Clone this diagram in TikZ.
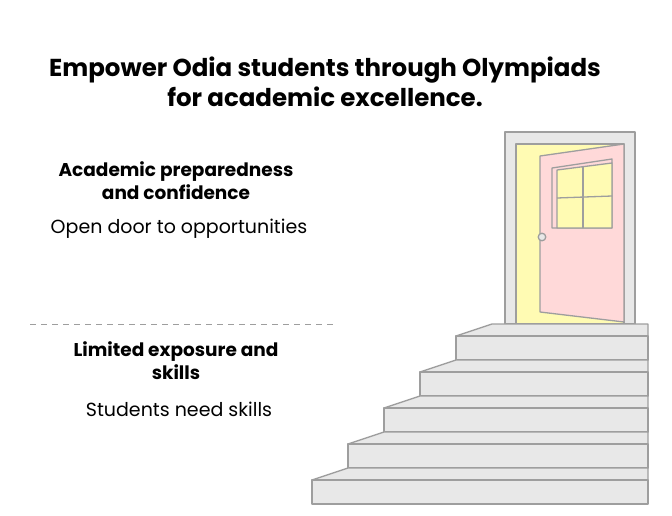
\documentclass[tikz,border=0pt]{standalone}
\usepackage{fontspec}
\setmainfont{Poppins}
\begin{document}
\begin{tikzpicture}[x=1pt,y=-1pt,
  ln/.style={draw=black!38,line width=1.3pt,line join=round},
  gr/.style={ln,fill=black!9},
  ttl/.style={font=\fontsize{24.5}{30}\selectfont\bfseries,align=center},
  hd/.style={font=\fontsize{18.5}{23}\selectfont\bfseries,align=center},
  bd/.style={font=\fontsize{19}{20}\selectfont}]
\useasboundingbox (0,0) rectangle (672,516);
\node[ttl] (title) at (325,82) {Empower Odia students through Olympiads\\for academic excellence.};
\node[hd] (h1) at (176,181) {Academic preparedness\\and confidence};
\node[bd] (b1) at (179,229) {Open door to opportunities};
\coordinate (d1) at (30,324); \coordinate (d2) at (336,324);
\draw[black!38,line width=1pt,dash pattern=on 6pt off 5pt] (d1) -- (d2);
\node[hd] (h2) at (176,361) {Limited exposure and\\skills};
\node[bd] (b2) at (179,409) {Students need skills};
% door
\draw[gr] (505,132) rectangle (635,324);
\draw[ln,fill=yellow!30] (516,144) rectangle (624,324);
\draw[ln,fill=red!15] (540,156) -- (624,144) -- (624,322) -- (540,312) -- cycle;
\draw[ln,fill=red!15] (552,168) -- (612,159) -- (612,228) -- (552,228) -- cycle;
\draw[ln,fill=yellow!30] (557,170) -- (612,163) -- (612,228) -- (557,228) -- cycle;
\draw[ln] (583,166) -- (583,228);
\draw[ln] (557,198) -- (612,196);
\draw[ln,fill=black!9] (542,237) circle (3.8);
% stairs
\draw[gr] (456,336) -- (492,324) -- (648,324) -- (648,336) -- cycle;
\draw[gr] (456,336) rectangle (648,360);
\draw[gr] (420,372) -- (456,360) -- (648,360) -- (648,372) -- cycle;
\draw[gr] (420,372) rectangle (648,396);
\draw[gr] (384,408) -- (420,396) -- (648,396) -- (648,408) -- cycle;
\draw[gr] (384,408) rectangle (648,432);
\draw[gr] (348,444) -- (384,432) -- (648,432) -- (648,444) -- cycle;
\draw[gr] (348,444) rectangle (648,468);
\draw[gr] (312,480) -- (348,468) -- (648,468) -- (648,480) -- cycle;
\draw[gr] (312,480) rectangle (648,504);
\end{tikzpicture}
\end{document}
